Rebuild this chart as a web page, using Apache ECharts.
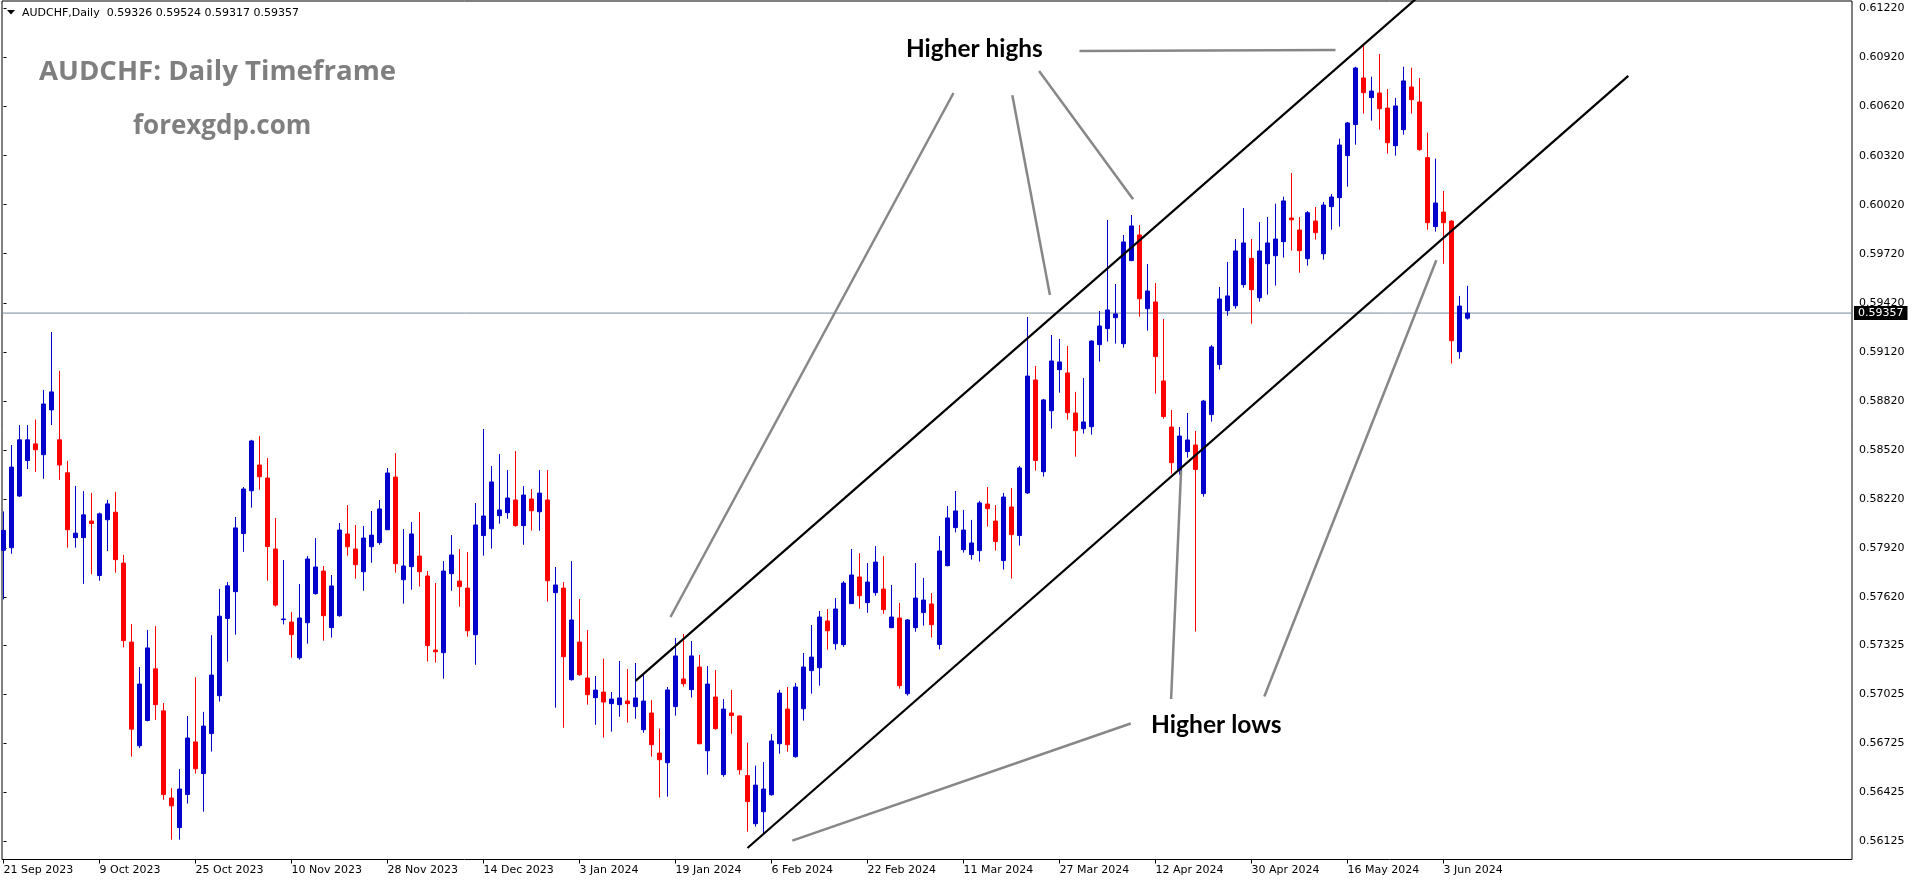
<!DOCTYPE html>
<html>
<head>
<meta charset="utf-8">
<script src="https://cdn.jsdelivr.net/npm/echarts@6/dist/echarts.min.js"></script>
<style>html,body{margin:0;padding:0;background:#fff;}#c{width:1916px;height:884px;}</style>
</head>
<body>
<div id="c"></div>
<script>
const symbolName = "AUDCHF";
const timeframe = "Daily";
const dates = [
"21 Sep 2023","22 Sep 2023","25 Sep 2023","26 Sep 2023","27 Sep 2023","28 Sep 2023","29 Sep 2023",
"2 Oct 2023","3 Oct 2023","4 Oct 2023","5 Oct 2023","6 Oct 2023","9 Oct 2023","10 Oct 2023","11 Oct 2023","12 Oct 2023","13 Oct 2023","16 Oct 2023","17 Oct 2023","18 Oct 2023","19 Oct 2023","20 Oct 2023","23 Oct 2023","24 Oct 2023","25 Oct 2023","26 Oct 2023","27 Oct 2023","30 Oct 2023","31 Oct 2023",
"1 Nov 2023","2 Nov 2023","3 Nov 2023","6 Nov 2023","7 Nov 2023","8 Nov 2023","9 Nov 2023","10 Nov 2023","13 Nov 2023","14 Nov 2023","15 Nov 2023","16 Nov 2023","17 Nov 2023","20 Nov 2023","21 Nov 2023","22 Nov 2023","23 Nov 2023","24 Nov 2023","27 Nov 2023","28 Nov 2023","29 Nov 2023","30 Nov 2023",
"1 Dec 2023","4 Dec 2023","5 Dec 2023","6 Dec 2023","7 Dec 2023","8 Dec 2023","11 Dec 2023","12 Dec 2023","13 Dec 2023","14 Dec 2023","15 Dec 2023","18 Dec 2023","19 Dec 2023","20 Dec 2023","21 Dec 2023","22 Dec 2023","26 Dec 2023","27 Dec 2023","28 Dec 2023","29 Dec 2023",
"2 Jan 2024","3 Jan 2024","4 Jan 2024","5 Jan 2024","8 Jan 2024","9 Jan 2024","10 Jan 2024","11 Jan 2024","12 Jan 2024","15 Jan 2024","16 Jan 2024","17 Jan 2024","18 Jan 2024","19 Jan 2024","22 Jan 2024","23 Jan 2024","24 Jan 2024","25 Jan 2024","26 Jan 2024","29 Jan 2024","30 Jan 2024","31 Jan 2024",
"1 Feb 2024","2 Feb 2024","5 Feb 2024","6 Feb 2024","7 Feb 2024","8 Feb 2024","9 Feb 2024","12 Feb 2024","13 Feb 2024","14 Feb 2024","15 Feb 2024","16 Feb 2024","19 Feb 2024","20 Feb 2024","21 Feb 2024","22 Feb 2024","23 Feb 2024","26 Feb 2024","27 Feb 2024","28 Feb 2024","29 Feb 2024",
"1 Mar 2024","4 Mar 2024","5 Mar 2024","6 Mar 2024","7 Mar 2024","8 Mar 2024","11 Mar 2024","12 Mar 2024","13 Mar 2024","14 Mar 2024","15 Mar 2024","18 Mar 2024","19 Mar 2024","20 Mar 2024","21 Mar 2024","22 Mar 2024","25 Mar 2024","26 Mar 2024","27 Mar 2024","28 Mar 2024","29 Mar 2024",
"1 Apr 2024","2 Apr 2024","3 Apr 2024","4 Apr 2024","5 Apr 2024","8 Apr 2024","9 Apr 2024","10 Apr 2024","11 Apr 2024","12 Apr 2024","15 Apr 2024","16 Apr 2024","17 Apr 2024","18 Apr 2024","19 Apr 2024","22 Apr 2024","23 Apr 2024","24 Apr 2024","25 Apr 2024","26 Apr 2024","29 Apr 2024","30 Apr 2024",
"1 May 2024","2 May 2024","3 May 2024","6 May 2024","7 May 2024","8 May 2024","9 May 2024","10 May 2024","13 May 2024","14 May 2024","15 May 2024","16 May 2024","17 May 2024","20 May 2024","21 May 2024","22 May 2024","23 May 2024","24 May 2024","27 May 2024","28 May 2024","29 May 2024","30 May 2024","31 May 2024",
"3 Jun 2024","4 Jun 2024","5 Jun 2024","6 Jun 2024"
];
const openP = [
0.57906,0.57922,0.58238,0.58455,0.58557,0.58491,0.58765,0.58582,0.58380,0.57984,
0.57984,0.58085,0.57752,0.58093,0.58139,0.57828,0.57345,0.56711,0.56865,0.57181,
0.56924,0.56391,0.56210,0.56412,0.56734,0.56541,0.56785,0.57017,0.57489,0.57653,
0.58009,0.58270,0.58428,0.58348,0.57914,0.57482,0.57467,0.57249,0.57463,0.57641,
0.57779,0.57433,0.57506,0.58006,0.57914,0.57775,0.57928,0.57953,0.58032,0.58354,
0.57726,0.57806,0.57871,0.57749,0.57296,0.57280,0.57763,0.57718,0.57675,0.57390,
0.57996,0.58038,0.58118,0.58136,0.58214,0.58057,0.58220,0.58142,0.58214,0.57647,
0.57675,0.57115,0.57345,0.57125,0.57005,0.57039,0.56968,0.56962,0.56984,0.56950,
0.56809,0.56911,0.56666,0.56607,0.56950,0.57119,0.57054,0.57192,0.56680,0.57009,
0.56534,0.56911,0.56893,0.56528,0.56234,0.56307,0.56411,0.56723,0.56935,0.56644,
0.56937,0.57170,0.57188,0.57474,0.57335,0.57329,0.57580,0.57743,0.57586,0.57647,
0.57669,0.57433,0.57492,0.57029,0.57433,0.57525,0.57578,0.57330,0.57812,0.58045,
0.57910,0.57880,0.57904,0.58189,0.58085,0.57843,0.58171,0.57996,0.58257,0.58948,
0.58387,0.58760,0.59011,0.58991,0.58746,0.58650,0.58662,0.59164,0.59262,0.59329,
0.59170,0.59678,0.59835,0.59384,0.59425,0.58942,0.58660,0.58393,0.58510,0.58550,
0.58253,0.58736,0.59042,0.59372,0.59402,0.59531,0.59692,0.59451,0.59659,0.59708,
0.59794,0.59939,0.59865,0.59690,0.59920,0.59720,0.60008,0.60063,0.60320,0.60510,
0.60795,0.60675,0.60703,0.60611,0.60381,0.60479,0.60740,0.60648,0.60308,0.59886,
0.59975,0.59920,0.59121,0.59326
];
const highP = [
0.58144,0.58550,0.58672,0.58672,0.58706,0.58887,0.59241,0.59003,0.58453,0.58300,
0.58268,0.58257,0.58137,0.58215,0.58264,0.57878,0.57455,0.57192,0.57419,0.57442,
0.56972,0.56452,0.56568,0.56892,0.57130,0.56918,0.57387,0.57670,0.57712,0.58110,
0.58293,0.58582,0.58605,0.58470,0.58104,0.57847,0.57529,0.57700,0.57871,0.57981,
0.57810,0.57755,0.58073,0.58183,0.58061,0.58055,0.58146,0.58214,0.58409,0.58501,
0.58036,0.58079,0.58140,0.57779,0.57706,0.57840,0.57999,0.57914,0.57896,0.58195,
0.58648,0.58422,0.58495,0.58397,0.58513,0.58299,0.58281,0.58397,0.58397,0.57804,
0.57712,0.57840,0.57608,0.57418,0.57137,0.57243,0.57039,0.57229,0.57180,0.57217,
0.57143,0.56990,0.56815,0.57070,0.57370,0.57394,0.57351,0.57266,0.57198,0.57174,
0.56996,0.57052,0.56895,0.56729,0.56589,0.56611,0.56782,0.57052,0.57070,0.57094,
0.57278,0.57449,0.57535,0.57547,0.57614,0.57718,0.57914,0.57889,0.57828,0.57932,
0.57871,0.57694,0.57584,0.57486,0.57828,0.57737,0.57645,0.57994,0.58177,0.58269,
0.58153,0.58092,0.58208,0.58293,0.58183,0.58257,0.58287,0.58422,0.59333,0.59034,
0.58832,0.59223,0.59199,0.59156,0.58875,0.58960,0.59190,0.59370,0.59927,0.59535,
0.59835,0.59957,0.59896,0.59657,0.59541,0.59321,0.58764,0.58660,0.58746,0.58636,
0.58826,0.59162,0.59517,0.59670,0.59810,0.60000,0.59810,0.59914,0.59945,0.60026,
0.60069,0.60214,0.59945,0.59981,0.60006,0.60036,0.60085,0.60424,0.60526,0.60864,
0.60997,0.60803,0.60942,0.60728,0.60673,0.60864,0.60858,0.60795,0.60461,0.60302,
0.60104,0.59925,0.59462,0.59524
];
const lowP = [
0.57606,0.57885,0.58232,0.58403,0.58386,0.58344,0.58672,0.58337,0.57922,0.57922,
0.57701,0.57760,0.57720,0.57901,0.57769,0.57312,0.56644,0.56696,0.56860,0.56869,
0.56381,0.56136,0.56136,0.56357,0.56541,0.56307,0.56675,0.56981,0.57225,0.57390,
0.57897,0.58167,0.58276,0.57720,0.57562,0.57453,0.57249,0.57237,0.57335,0.57635,
0.57353,0.57372,0.57500,0.57873,0.57732,0.57659,0.57830,0.57940,0.58030,0.57769,
0.57580,0.57665,0.57684,0.57225,0.57219,0.57121,0.57659,0.57561,0.57378,0.57206,
0.57873,0.57916,0.58069,0.58099,0.58051,0.57940,0.58026,0.58026,0.57592,0.56943,
0.56821,0.57109,0.57139,0.56962,0.56839,0.56760,0.56797,0.56888,0.56852,0.56876,
0.56790,0.56644,0.56393,0.56399,0.56895,0.57072,0.57005,0.56720,0.56534,0.56809,
0.56521,0.56784,0.56534,0.56185,0.56216,0.56175,0.56405,0.56662,0.56674,0.56638,
0.56864,0.57029,0.57078,0.57298,0.57298,0.57316,0.57578,0.57549,0.57524,0.57628,
0.57518,0.57430,0.57060,0.57017,0.57408,0.57445,0.57372,0.57300,0.57808,0.58016,
0.57892,0.57849,0.57837,0.58051,0.57904,0.57788,0.57733,0.57935,0.58251,0.58393,
0.58357,0.58650,0.58870,0.58705,0.58479,0.58620,0.58614,0.59060,0.59183,0.59170,
0.59146,0.59675,0.59335,0.59250,0.58864,0.58711,0.58375,0.58369,0.58473,0.57409,
0.58234,0.58693,0.59011,0.59341,0.59384,0.59512,0.59292,0.59427,0.59470,0.59525,
0.59696,0.59739,0.59604,0.59647,0.59806,0.59684,0.59867,0.59886,0.60130,0.60387,
0.60577,0.60534,0.60479,0.60332,0.60320,0.60448,0.60577,0.60350,0.59867,0.59855,
0.59659,0.59048,0.59078,0.59317
];
const closeP = [
0.58028,0.58415,0.58582,0.58582,0.58521,0.58801,0.58875,0.58428,0.58032,0.58011,
0.58123,0.58070,0.58129,0.58190,0.57849,0.57354,0.56812,0.57088,0.57309,0.56962,
0.56412,0.56343,0.56446,0.56758,0.56570,0.56831,0.57143,0.57503,0.57689,0.58043,
0.58281,0.58575,0.58356,0.57929,0.57571,0.57486,0.57390,0.57492,0.57853,0.57804,
0.57506,0.57688,0.58030,0.57928,0.57818,0.57981,0.57999,0.58159,0.58379,0.57824,
0.57810,0.58006,0.57775,0.57323,0.57286,0.57779,0.57877,0.57684,0.57414,0.58061,
0.58116,0.58324,0.58153,0.58226,0.58057,0.58244,0.58148,0.58256,0.57720,0.57694,
0.57255,0.57480,0.57145,0.57023,0.57051,0.56978,0.56996,0.57003,0.56968,0.57003,
0.56984,0.56717,0.56625,0.57052,0.57260,0.57090,0.57260,0.56723,0.57088,0.56815,
0.56935,0.56895,0.56564,0.56369,0.56470,0.56446,0.56740,0.57033,0.56717,0.57070,
0.57192,0.57253,0.57498,0.57414,0.57547,0.57706,0.57755,0.57628,0.57712,0.57834,
0.57543,0.57498,0.57078,0.57480,0.57614,0.57602,0.57451,0.57902,0.58104,0.58147,
0.58030,0.57951,0.58196,0.58161,0.57959,0.58232,0.58002,0.58410,0.58972,0.58455,
0.58826,0.59064,0.59058,0.58748,0.58638,0.58691,0.59186,0.59278,0.59376,0.59352,
0.59792,0.59890,0.59445,0.59492,0.59091,0.58724,0.58442,0.58605,0.58581,0.58400,
0.58819,0.59150,0.59443,0.59462,0.59737,0.59786,0.59500,0.59737,0.59786,0.59810,
0.60043,0.59928,0.59739,0.59971,0.59849,0.60018,0.60067,0.60385,0.60520,0.60856,
0.60705,0.60715,0.60607,0.60399,0.60624,0.60777,0.60662,0.60357,0.59910,0.60030,
0.59910,0.59188,0.59400,0.59357
];
const priceTicks = [0.61220,0.60920,0.60620,0.60320,0.60020,0.59720,0.59420,0.59120,0.58820,0.58520,0.58220,0.57920,0.57620,0.57325,0.57025,0.56725,0.56425,0.56125];
const dateTickIdx = [0,12,24,36,48,60,72,84,96,108,120,132,144,156,168,180];
// trend channel lines: [bar index, price]
const channelLines = [
  [[79, 0.57107], [177, 0.61298]],
  [[93, 0.56085], [203.1, 0.60808]]
];
// grey pointer lines: [bar index, price]
const pointerLines = [
  [[134.5, 0.60960], [166.5, 0.60966]],
  [[118.75, 0.60703], [83.375, 0.57498]],
  [[126.1, 0.60689], [130.8, 0.59468]],
  [[129.45, 0.60838], [141.2, 0.60054]],
  [[98.6, 0.56130], [140.9, 0.56847]],
  [[147.2, 0.58395], [145.95, 0.56997]],
  [[179.1, 0.59680], [157.6, 0.57012]]
];
const titleText = "AUDCHF: Daily Timeframe";
const siteText = "forexgdp.com";
const noteHighs = "Higher highs";
const noteLows = "Higher lows";

const N = dates.length;
const candles = dates.map((d, i) => [i, openP[i], closeP[i], lowP[i], highP[i]]);
const last = N - 1;
const lastPrice = closeP[last];
const headerText = symbolName + "," + timeframe + "  " + [openP[last], highP[last], lowP[last], closeP[last]].map(v => v.toFixed(5)).join(" ");
const xMin = -0.1875, xMax = -0.1875 + 1850 / 8;

const chart = echarts.init(document.getElementById('c'), null, {renderer: 'canvas'});
const axisFont = 'DejaVu Sans';
const option = {
  animation: false,
  backgroundColor: '#ffffff',
  grid: {left: 2, right: 64, top: 1, bottom: 24.5, show: true, borderColor: '#000', borderWidth: 1, backgroundColor: 'transparent'},
  xAxis: {
    type: 'value', min: xMin, max: xMax,
    axisLine: {show: false},
    splitLine: {show: false},
    axisTick: {show: true, customValues: dateTickIdx, length: 4, lineStyle: {color: '#000', width: 1}},
    axisLabel: {show: true, customValues: dateTickIdx, align: 'left', margin: 5, color: '#000', fontFamily: axisFont, fontSize: 11,
      formatter: v => dates[Math.round(v)] || ''}
  },
  yAxis: {
    type: 'value', position: 'right', min: 0.560149, max: 0.612659, scale: true,
    axisLine: {show: false},
    splitLine: {show: false},
    axisTick: {show: true, customValues: priceTicks, length: 3, lineStyle: {color: '#000', width: 1}},
    axisLabel: {show: true, customValues: priceTicks, margin: 7, color: '#000', fontFamily: axisFont, fontSize: 11,
      formatter: v => v.toFixed(5)}
  },
  series: [
    {
      type: 'line', silent: true, symbol: 'none', showSymbol: false,
      data: [[xMin, lastPrice], [xMax, lastPrice]],
      lineStyle: {color: '#778899', width: 1},
      endLabel: {show: true, distance: 2, formatter: lastPrice.toFixed(5), color: '#fff', backgroundColor: '#000',
        padding: [2, 4, 1, 4], fontFamily: axisFont, fontSize: 11, align: 'left', verticalAlign: 'middle'},
      z: 1
    },
    {
      type: 'candlestick',
      dimensions: ['idx', 'open', 'close', 'lowest', 'highest'],
      encode: {x: 'idx', y: ['open', 'close', 'lowest', 'highest']},
      data: candles,
      barWidth: 4,
      silent: true,
      itemStyle: {color: '#0000cd', color0: '#ff0000', borderColor: '#0000cd', borderColor0: '#ff0000', borderWidth: 1},
      z: 2
    },
    {
      type: 'lines', coordinateSystem: 'cartesian2d', polyline: false, silent: true, clip: true,
      data: pointerLines.map(c => ({coords: c})),
      lineStyle: {color: '#878787', width: 2.5, opacity: 1},
      z: 3
    },
    {
      type: 'lines', coordinateSystem: 'cartesian2d', polyline: false, silent: true, clip: true,
      data: channelLines.map(c => ({coords: c})),
      lineStyle: {color: '#000', width: 2.2, opacity: 1},
      z: 4
    }
  ],
  graphic: [
    {type: 'polygon', shape: {points: [[7, 10], [15, 10], [11, 14.5]]}, style: {fill: '#000'}},
    {type: 'text', x: 22, y: 13, style: {text: headerText, fill: '#000', font: '11px "DejaVu Sans"', textAlign: 'left', textVerticalAlign: 'middle', verticalAlign: 'middle'}},
    {type: 'text', x: 39, y: 72, style: {text: titleText, fill: '#7f7f7f', font: 'bold 27.6px "Open Sans"', textAlign: 'left', textVerticalAlign: 'middle', verticalAlign: 'middle'}},
    {type: 'text', x: 133, y: 127, style: {text: siteText, fill: '#7f7f7f', font: 'bold 26px "Open Sans"', textAlign: 'left', textVerticalAlign: 'middle', verticalAlign: 'middle'}},
    {type: 'text', x: 906, y: 49, style: {text: noteHighs, fill: '#000', font: 'bold 24.4px Lato', textAlign: 'left', textVerticalAlign: 'middle', verticalAlign: 'middle'}},
    {type: 'text', x: 1151, y: 725, style: {text: noteLows, fill: '#000', font: 'bold 24.6px Lato', textAlign: 'left', textVerticalAlign: 'middle', verticalAlign: 'middle'}}
  ]
};
chart.setOption(option);
</script>
</body>
</html>
